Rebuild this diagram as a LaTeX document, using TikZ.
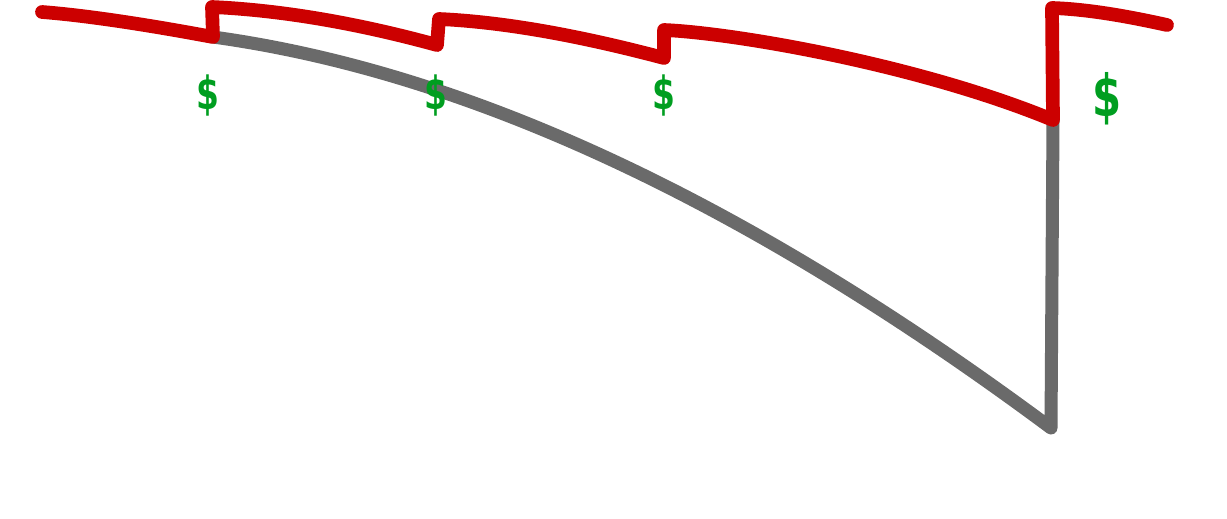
\documentclass[tikz,border=0pt]{standalone}
\usepackage{fontspec}
\newfontfamily\dollarfont{DejaVu Sans}
\definecolor{lossred}{RGB}{204,0,0}
\definecolor{decaygray}{RGB}{106,106,106}
\definecolor{dollargreen}{RGB}{0,158,32}

\begin{document}
\begin{tikzpicture}[x=0.02cm, y=-0.02cm,
    redline/.style={draw=lossred, line width=7.8pt, line cap=round, line join=round},
    grayline/.style={draw=decaygray, line width=7.4pt, line cap=round, line join=round},
    dollar/.style={text=dollargreen, inner sep=0pt, xscale=0.72,
        font=\dollarfont\bfseries\fontsize{26}{26}\selectfont}]
        \useasboundingbox (0,0) rectangle (1227,518);

        % Turning points of the red line
        \coordinate (s0) at (42,12);
        \coordinate (d1) at (213,37);  \coordinate (u1) at (212,7);
        \coordinate (d2) at (437,45);  \coordinate (u2) at (439,19);
        \coordinate (d3) at (664,58);  \coordinate (u3) at (664,30);
        \coordinate (d4) at (1053,120); \coordinate (u4) at (1052,8);
        \coordinate (e) at (1167,25);
        \coordinate (low) at (1051,428);

        % Gray decay curve
        \draw[grayline] (d1) .. controls (468,72) and (747,202) .. (low) -- (d4);

        % Red line with the jumps
        \draw[redline] (s0) .. controls (81,15) and (138,23) .. (d1) -- (u1)
            .. controls (278,10) and (353,22) .. (d2) -- (u2)
            .. controls (505,22) and (581,36) .. (d3) -- (u3)
            .. controls (735,33) and (920,65) .. (d4) -- (u4)
            .. controls (1084,9) and (1122,15) .. (e);

        % Dollar signs
        \foreach \x [count=\i] in {208, 436, 664} {
            \node[dollar] (usd\i) at (\x,95) {\$};
        }
        \node[dollar, font=\dollarfont\bfseries\fontsize{33}{33}\selectfont] (usd4) at (1107,99) {\$};
    \end{tikzpicture}
\end{document}
